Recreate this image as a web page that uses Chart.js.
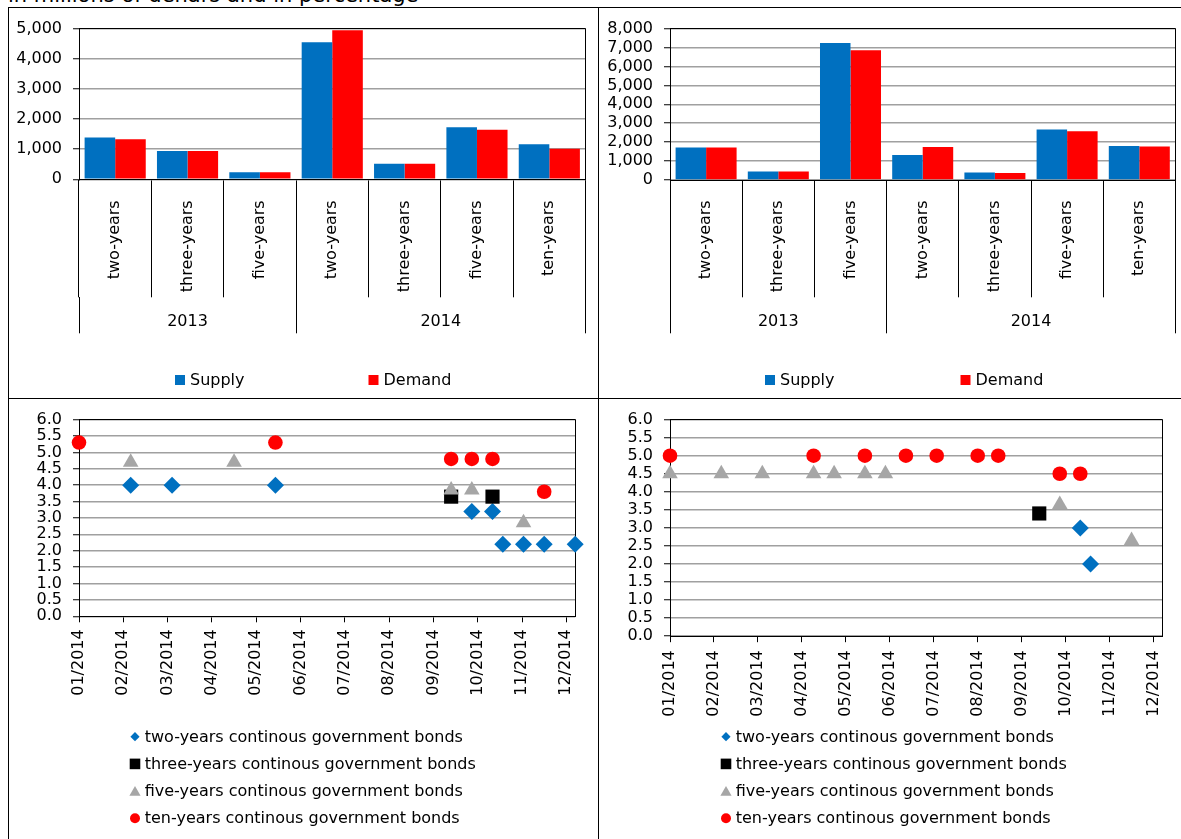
<!DOCTYPE html>
<html>
<head>
<meta charset="utf-8">
<script src="https://cdn.jsdelivr.net/npm/chart.js@4/dist/chart.umd.min.js"></script>
<style>
  html, body { margin: 0; padding: 0; background: #fff; }
  body { position: relative; width: 1181px; height: 839px; overflow: hidden; font-family: "DejaVu Sans", Verdana, sans-serif; }
  .rule { position: absolute; background: #000; }
  canvas { position: absolute; }
  #caption { position: absolute; left: 8px; top: -15.5px; font-size: 21px; line-height: 1; white-space: nowrap; color: #000; }
</style>
</head>
<body>
<div id="caption">in millions of denars and in percentage</div>
<div class="rule" style="left:8px; top:7px; width:1173px; height:1px"></div>
<div class="rule" style="left:8px; top:7px; width:1px; height:832px"></div>
<div class="rule" style="left:8px; top:398px; width:1173px; height:1px"></div>
<div class="rule" style="left:598px; top:7px; width:1px; height:832px"></div>

<canvas id="barLeft" width="590" height="390" style="left:8px; top:8px"></canvas>
<canvas id="barRight" width="581" height="390" style="left:600px; top:8px"></canvas>
<canvas id="rateLeft" width="590" height="440" style="left:8px; top:399px"></canvas>
<canvas id="rateRight" width="581" height="440" style="left:600px; top:399px"></canvas>

<script>
// ------------------------- DATA -------------------------
const maturities = ['two-years', 'three-years', 'five-years', 'two-years', 'three-years', 'five-years', 'ten-years'];
const years = ['2013', '2014'];
const maturitiesPerYear = [3, 4];
const barSeriesLabels = ['Supply', 'Demand'];

// in millions of denars
const supplyLeft  = [1385, 940, 230, 4545, 520, 1725, 1165];
const demandLeft  = [1330, 940, 230, 4945, 520, 1640, 1015];
const supplyRight = [1720, 455, 7240, 1315, 390, 2665, 1790];
const demandRight = [1720, 455, 6850, 1740, 375, 2580, 1770];

const monthLabels = ['01/2014', '02/2014', '03/2014', '04/2014', '05/2014', '06/2014',
                     '07/2014', '08/2014', '09/2014', '10/2014', '11/2014', '12/2014'];
const rateSeriesLabels = [
  'two-years continous government bonds',
  'three-years continous government bonds',
  'five-years continous government bonds',
  'ten-years continous government bonds'
];

// auction day (days after the first auction of 2014) and interest rate in %
const twoYearDaysLeft    = [35, 63, 133, 266, 280, 287, 301, 315, 336];
const twoYearRatesLeft   = [4.0, 4.0, 4.0, 3.2, 3.2, 2.2, 2.2, 2.2, 2.2];
const threeYearDaysLeft  = [252, 280];
const threeYearRatesLeft = [3.65, 3.65];
const fiveYearDaysLeft   = [35, 105, 252, 266, 301];
const fiveYearRatesLeft  = [4.7, 4.7, 3.85, 3.85, 2.85];
const tenYearDaysLeft    = [0, 133, 252, 266, 280, 315];
const tenYearRatesLeft   = [5.3, 5.3, 4.8, 4.8, 4.8, 3.8];

const twoYearDaysRight    = [280, 287];
const twoYearRatesRight   = [3.0, 2.0];
const threeYearDaysRight  = [252];
const threeYearRatesRight = [3.4];
const fiveYearDaysRight   = [0, 35, 63, 98, 112, 133, 147, 266, 315];
const fiveYearRatesRight  = [4.5, 4.5, 4.5, 4.5, 4.5, 4.5, 4.5, 3.65, 2.65];
const tenYearDaysRight    = [0, 98, 133, 161, 182, 210, 224, 266, 280];
const tenYearRatesRight   = [5.0, 5.0, 5.0, 5.0, 5.0, 5.0, 5.0, 4.5, 4.5];

// ------------------------- CONFIG -------------------------
const DAYS_PER_TICK = 30;
const AXIS_LAST_DAY = 336;

Chart.defaults.font.family = '"DejaVu Sans", Verdana, sans-serif';
Chart.defaults.font.size = 16;
Chart.defaults.color = '#000';

const BLUE = '#0070C0', RED = '#FF0000', GRAY = '#A6A6A6', BLACK = '#000000';
const GRID = '#A0A0A0';

const align = (p) => Math.round(p - 0.5) + 0.5;

const framePlugin = {
  id: 'frame',
  beforeDatasetsDraw(chart) {
    const { ctx, chartArea: a } = chart;
    ctx.save();
    ctx.strokeStyle = '#000';
    ctx.lineWidth = 1;
    const t = align(a.top), r = align(a.right);
    ctx.beginPath();
    ctx.moveTo(Math.round(a.left), t);
    ctx.lineTo(r, t);
    ctx.lineTo(r, Math.round(a.bottom));
    ctx.stroke();
    ctx.restore();
  }
};

function drawMarker(ctx, style, x, y, color) {
  ctx.fillStyle = color;
  ctx.beginPath();
  if (style === 'box') {
    ctx.rect(x, y - 5, 10, 10);
  } else if (style === 'rectRot') {
    ctx.moveTo(x, y - 4.6); ctx.lineTo(x + 4.6, y); ctx.lineTo(x, y + 4.6); ctx.lineTo(x - 4.6, y); ctx.closePath();
  } else if (style === 'rect') {
    ctx.rect(x - 5.3, y - 5.3, 10.6, 10.6);
  } else if (style === 'triangle') {
    ctx.moveTo(x, y - 5); ctx.lineTo(x + 5.6, y + 4.6); ctx.lineTo(x - 5.6, y + 4.6); ctx.closePath();
  } else if (style === 'circle') {
    ctx.arc(x, y, 5, 0, Math.PI * 2);
  }
  ctx.fill();
}

// legend drawn at fixed slots, reading labels/colours from the datasets
const slotLegend = {
  id: 'slotLegend',
  afterDraw(chart, args, opts) {
    const ctx = chart.ctx;
    ctx.save();
    ctx.font = '16px "DejaVu Sans", Verdana, sans-serif';
    ctx.textBaseline = 'middle';
    ctx.textAlign = 'left';
    chart.data.datasets.forEach((ds, i) => {
      const s = opts.slots[i];
      const style = opts.box ? 'box' : ds.pointStyle;
      drawMarker(ctx, style, s.x, s.y, ds.backgroundColor);
      ctx.fillStyle = '#000';
      ctx.fillText(ds.label, s.x + opts.textGap, s.y + 1);
    });
    ctx.restore();
  }
};

function yearTickValues() {
  const vals = [-0.5];
  let start = -0.5;
  maturitiesPerYear.forEach(n => {
    vals.push(start + n / 2);
    start += n;
    vals.push(start);
  });
  return vals;
}
function yearLabelFor(v) {
  let start = -0.5;
  for (let i = 0; i < maturitiesPerYear.length; i++) {
    const c = start + maturitiesPerYear[i] / 2;
    if (Math.abs(v - c) < 1e-6) return years[i];
    start += maturitiesPerYear[i];
  }
  return '';
}

function barChart(id, supply, demand, yMax, opt) {
  return new Chart(document.getElementById(id), {
    type: 'bar',
    data: {
      labels: maturities,
      datasets: [
        { label: barSeriesLabels[0], data: supply, backgroundColor: BLUE, xAxisID: 'x', yAxisID: 'y' },
        { label: barSeriesLabels[1], data: demand, backgroundColor: RED, xAxisID: 'x', yAxisID: 'y' }
      ]
    },
    options: {
      responsive: false, animation: false, devicePixelRatio: 1,
      layout: { padding: opt.padding },
      datasets: { bar: { categoryPercentage: 0.845, barPercentage: 1, borderWidth: 0 } },
      plugins: {
        legend: { display: false }, tooltip: { enabled: false },
        slotLegend: { box: true, textGap: 15, slots: opt.legendSlots }
      },
      scales: {
        x: {
          type: 'category', offset: true, weight: 0,
          grid: { offset: true, drawOnChartArea: false, drawTicks: true, tickLength: opt.xHeight, color: '#000', lineWidth: 1 },
          border: { display: true, color: '#000', width: 1 },
          ticks: { minRotation: 90, maxRotation: 90, autoSkip: false, padding: opt.xLabelPad, color: '#000' },
          afterFit: s => { s.height = opt.xHeight; }
        },
        xYear: {
          type: 'linear', position: 'bottom', weight: 1, min: -0.5, max: 6.5, offset: false,
          afterBuildTicks: s => { s.ticks = yearTickValues().map(v => ({ value: v })); },
          grid: {
            offset: false, drawOnChartArea: false, drawTicks: true, tickLength: 36, lineWidth: 1,
            color: c => (c.tick && yearLabelFor(c.tick.value) === '') ? '#000' : 'rgba(0,0,0,0)'
          },
          border: { display: false },
          ticks: { autoSkip: false, minRotation: 0, maxRotation: 0, padding: -21, color: '#000',
                   callback: v => yearLabelFor(v) },
          afterFit: s => { s.height = 36; }
        },
        y: {
          min: 0, max: yMax,
          ticks: { stepSize: 1000, autoSkip: false, padding: 11, color: '#000', callback: v => v.toLocaleString('en-US') },
          grid: { color: GRID, lineWidth: 1.5, tickLength: 6, tickColor: '#000', tickWidth: 1 },
          border: { display: true, color: '#000', width: 1 },
          afterFit: s => { s.width = opt.yWidth; }
        }
      }
    },
    plugins: [framePlugin, slotLegend]
  });
}

const rateStyles = [
  { pointStyle: 'rectRot',  color: BLUE,  radius: 8.5, order: 4 },
  { pointStyle: 'rect',     color: BLACK, radius: 10,  order: 3 },
  { pointStyle: 'triangle', color: GRAY,  radius: 9,   order: 2 },
  { pointStyle: 'circle',   color: RED,   radius: 7.3, order: 1 }
];

function rateChart(id, series, opt) {
  const datasets = series.map((s, i) => ({
    label: rateSeriesLabels[i],
    data: s.days.map((d, k) => ({ x: d, y: s.rates[k] })),
    showLine: false,
    pointStyle: rateStyles[i].pointStyle,
    backgroundColor: rateStyles[i].color,
    borderColor: rateStyles[i].color,
    pointBackgroundColor: rateStyles[i].color,
    pointBorderWidth: 0,
    pointRadius: rateStyles[i].radius,
    order: rateStyles[i].order,
    clip: false
  }));
  return new Chart(document.getElementById(id), {
    type: 'scatter',
    data: { datasets },
    options: {
      responsive: false, animation: false, devicePixelRatio: 1,
      layout: { padding: opt.padding },
      plugins: {
        legend: { display: false }, tooltip: { enabled: false },
        slotLegend: { box: false, textGap: 9.7, slots: opt.legendSlots }
      },
      scales: {
        x: {
          type: 'linear', min: 0, max: AXIS_LAST_DAY, offset: false,
          afterBuildTicks: s => { s.ticks = monthLabels.map((_, i) => ({ value: i * DAYS_PER_TICK })); },
          ticks: { autoSkip: false, minRotation: 90, maxRotation: 90, padding: opt.xLabelPad, color: '#000',
                   callback: (v, i) => monthLabels[i] },
          grid: { offset: false, drawOnChartArea: false, drawTicks: true, tickLength: 6, color: '#000', lineWidth: 1 },
          border: { display: true, color: '#000', width: 1 },
          afterFit: s => { s.height = 100; }
        },
        y: {
          min: 0, max: 6,
          ticks: { stepSize: 0.5, autoSkip: false, padding: 11, color: '#000', callback: v => v.toFixed(1) },
          grid: { color: GRID, lineWidth: 1.5, tickLength: 6, tickColor: '#000', tickWidth: 1 },
          border: { display: true, color: '#000', width: 1 },
          afterFit: s => { s.width = opt.yWidth; }
        }
      }
    },
    plugins: [framePlugin, slotLegend]
  });
}

barChart('barLeft', supplyLeft, demandLeft, 5000, {
  padding: { left: 0, top: 13.7, right: 12.5, bottom: 64.7 },
  yWidth: 71, xHeight: 118, xLabelPad: -97,
  legendSlots: [{ x: 167, y: 372 }, { x: 360.5, y: 372 }]
});
barChart('barRight', supplyRight, demandRight, 8000, {
  padding: { left: 0, top: 14, right: 5.6, bottom: 64.7 },
  yWidth: 70, xHeight: 117.3, xLabelPad: -97,
  legendSlots: [{ x: 165, y: 372 }, { x: 360.5, y: 372 }]
});

const legendRows = [337.7, 364.9, 392.1, 419.3];
rateChart('rateLeft', [
  { days: twoYearDaysLeft,   rates: twoYearRatesLeft },
  { days: threeYearDaysLeft, rates: threeYearRatesLeft },
  { days: fiveYearDaysLeft,  rates: fiveYearRatesLeft },
  { days: tenYearDaysLeft,   rates: tenYearRatesLeft }
], {
  padding: { left: 0, top: 16.7, right: 22.8, bottom: 122.7 },
  yWidth: 71, xLabelPad: 7,
  legendSlots: legendRows.map(y => ({ x: 127, y }))
});
rateChart('rateRight', [
  { days: twoYearDaysRight,   rates: twoYearRatesRight },
  { days: threeYearDaysRight, rates: threeYearRatesRight },
  { days: fiveYearDaysRight,  rates: fiveYearRatesRight },
  { days: tenYearDaysRight,   rates: tenYearRatesRight }
], {
  padding: { left: 0, top: 16.7, right: 14.1, bottom: 102.8 },
  yWidth: 70, xLabelPad: 8,
  legendSlots: legendRows.map(y => ({ x: 126, y }))
});
</script>
</body>
</html>
